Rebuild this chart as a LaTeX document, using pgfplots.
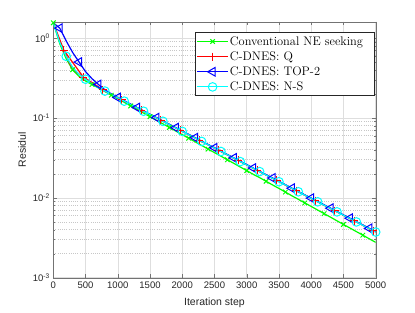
\documentclass[border=0pt]{standalone}
\usepackage{pgfplots}
\usepackage{pgfplotstable}
\pgfplotsset{compat=1.18}
\usepackage{fontspec}
\newfontfamily\arial{Liberation Sans}

\pgfplotstableread{
x green blue cyan
0 1.55 1.55 1.55
100 0.85 1.33 0.88
200 0.55 0.92 0.59
300 0.40 0.66 0.43
400 0.33 0.50 0.35
500 0.29 0.38 0.305
600 0.262 0.31 0.268
700 0.2372 0.262 0.2388
800 0.2139 0.225 0.2168
900 0.1928 0.200 0.1968
1000 0.1738 0.1800 0.1786
1100 0.1568 0.1640 0.1622
1200 0.1413 0.1490 0.1472
1300 0.1275 0.1350 0.1337
1400 0.1149 0.1225 0.1213
1500 0.1037 0.1112 0.1102
1600 0.0934 0.1010 0.1000
1700 0.0843 0.0917 0.0908
1800 0.0760 0.0832 0.0824
1900 0.0685 0.0755 0.0748
2000 0.0617 0.0686 0.0679
2100 0.0557 0.0623 0.0617
2200 0.0502 0.0566 0.0560
2300 0.0453 0.0513 0.0508
2400 0.0408 0.0466 0.0461
2500 0.0368 0.0423 0.0419
2600 0.0332 0.0384 0.0380
2700 0.0299 0.0348 0.0345
2800 0.0270 0.0316 0.0313
2900 0.0243 0.0287 0.0284
3000 0.0219 0.0261 0.0258
3100 0.0197 0.0236 0.0234
3200 0.0179 0.0215 0.0213
3300 0.0161 0.0195 0.0193
3400 0.0145 0.0177 0.0175
3500 0.0131 0.0161 0.0159
3600 0.0118 0.0146 0.0145
3700 0.0106 0.0132 0.0131
3800 0.00958 0.0120 0.0119
3900 0.00863 0.0109 0.0108
4000 0.00780 0.00992 0.00982
4100 0.00703 0.00900 0.00891
4200 0.00634 0.00817 0.00809
4300 0.00572 0.00742 0.00735
4400 0.00515 0.00674 0.00667
4500 0.00464 0.00611 0.00605
4600 0.00419 0.00556 0.00550
4700 0.00378 0.00504 0.00499
4800 0.00341 0.00458 0.00453
4900 0.00307 0.00415 0.00411
5000 0.00277 0.00377 0.00373
}\datatable

% red: full curve (line only)
\pgfplotstableread{
x red
0 1.55
165 0.70
265 0.46
365 0.37
465 0.325
565 0.288
665 0.255
765 0.2243
1065 0.1678
1365 0.1256
1665 0.0940
1965 0.0703
2265 0.0526
2565 0.0393
2865 0.0294
3165 0.0220
3465 0.0165
3765 0.0123
4065 0.00923
4365 0.00690
4665 0.00517
4965 0.00387
5000 0.00373
}\redtable

% red: marked points
\pgfplotstableread{
x red
165 0.70
465 0.325
765 0.2243
1065 0.1678
1365 0.1256
1665 0.0940
1965 0.0703
2265 0.0526
2565 0.0393
2865 0.0294
3165 0.0220
3465 0.0165
3765 0.0123
4065 0.00923
4365 0.00690
4665 0.00517
4965 0.00387
}\redmarks

\definecolor{axgray}{rgb}{0.15,0.15,0.15}
\definecolor{sgreen}{rgb}{0,1,0}
\definecolor{sred}{rgb}{1,0,0}
\definecolor{sblue}{rgb}{0,0,1}
\definecolor{scyan}{rgb}{0,1,1}

\begin{document}
\begin{tikzpicture}
\begin{semilogyaxis}[
  scale only axis,
  width=322.4bp, height=256bp,
  xmin=0, xmax=5000, ymin=0.001, ymax=1.6,
  xtick={0,500,...,5000},
  scaled x ticks=false,
  /pgf/number format/1000 sep={},
  /pgf/number format/assume math mode=true,
  ytick={0.001,0.01,0.1,1},
  yticklabels={10\textsuperscript{-3},10\textsuperscript{-2},10\textsuperscript{-1},10\textsuperscript{0}},
  tick label style={font=\arial\fontsize{9.5bp}{11bp}\selectfont, text=axgray},
  label style={font=\arial\fontsize{10.5bp}{12bp}\selectfont, text=axgray},
  xlabel={Iteration step},
  ylabel={Residul},
  xlabel style={at={(axis description cs:0.5,-0.0977)}, anchor=center},
  ylabel style={at={(axis description cs:-0.0963,0.5)}, anchor=center},
  xticklabel style={yshift=-1bp},
  axis line style={draw=black!55},
  tick style={draw=black!55},
  major tick length=3.5bp, minor tick length=2bp,
  tick align=inside,
  xmajorgrids, ymajorgrids, yminorgrids,
  major grid style={draw=black!13, line width=0.5bp},
  minor grid style={draw=black!22, dash pattern=on 0.6bp off 1.6bp, line width=0.5bp},
  legend style={at={(rel axis cs:0.9978,0.958)}, anchor=north east,
    draw=axgray, fill=white, line width=0.5bp,
    font=\fontsize{12.4bp}{13bp}\selectfont,
    inner xsep=1.5bp, inner ysep=2.5bp, row sep=2.5bp,
    nodes={inner sep=1.2bp}},
  legend cell align=left,
  legend image code/.code={
    \draw[#1, mark repeat=2, mark phase=2] plot coordinates {(0bp,0bp) (15.5bp,0bp) (31bp,0bp)};
  },
]
\addplot[draw=sgreen, line width=1.2bp, mark=x, mark size=3.2bp, mark repeat=3, mark phase=1, mark options={draw=sgreen, line width=1bp}]
  table[x=x, y=green] {\datatable};
\addlegendentry{Conventional NE seeking\rule{9bp}{0pt}}
\addplot[draw=sred, line width=1.2bp, no marks, forget plot]
  table[x=x, y=red] {\redtable};
\addplot[draw=sred, line width=1.2bp, mark=+, mark size=4bp,
  mark options={draw=sred, line width=1bp}]
  table[x=x, y=red] {\redmarks};
\addlegendentry{C-DNES: Q}
\addplot[draw=sblue, line width=1.2bp, mark=triangle, mark size=5bp, mark repeat=3, mark phase=2, mark options={draw=sblue, line width=1bp, rotate=90}]
  table[x=x, y=blue] {\datatable};
\addlegendentry{C-DNES: TOP-2}
\addplot[draw=scyan, line width=1.2bp, mark=o, mark size=4.3bp, mark repeat=3, mark phase=3, mark options={draw=scyan, line width=1bp}]
  table[x=x, y=cyan] {\datatable};
\addlegendentry{C-DNES: N-S}
\coordinate (bbsw) at (rel axis cs:-0.1653,-0.1348);
\coordinate (bbne) at (rel axis cs:1.1219,1.0848);
\end{semilogyaxis}
\path (bbsw) rectangle (bbne);
\end{tikzpicture}
\end{document}
